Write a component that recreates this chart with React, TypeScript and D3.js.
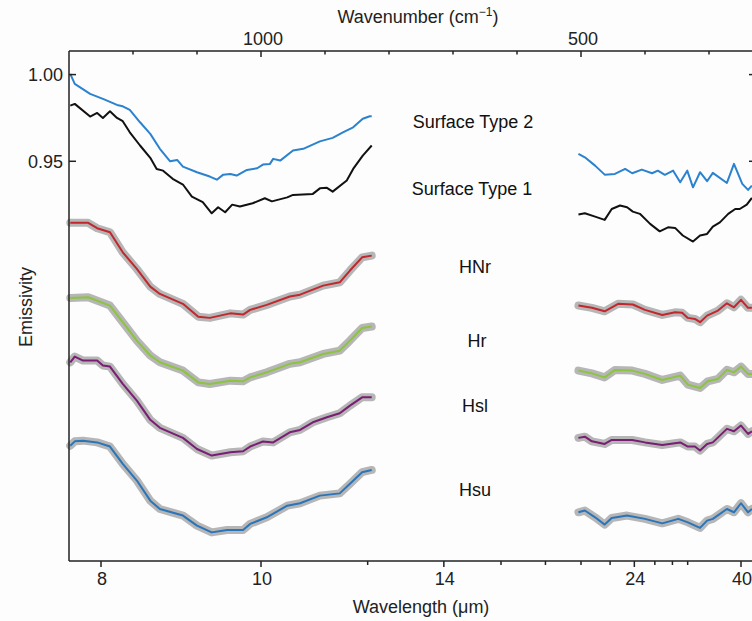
import React from 'react';
import * as d3 from 'd3';

type Pt = [number, number];

// [wavenumber (cm-1), emissivity]; the 12-21 um gap has no data
const type2Left: Pt[] = [[1298,1.0004],[1291,0.9946],[1267,0.9889],[1247,0.9860],[1225,0.9825],[1216,0.9817],[1205,0.9796],[1189,0.9725],[1173,0.9658],[1158,0.9572],[1142,0.9500],[1131,0.9508],[1122,0.9469],[1100,0.9437],[1080,0.9412],[1069,0.9394],[1059,0.9423],[1048,0.9427],[1038,0.9418],[1022,0.9450],[1006,0.9460],[997,0.9481],[986,0.9485],[981,0.9514],[970,0.9504],[950,0.9562],[934,0.9572],[908,0.9615],[888,0.9635],[872,0.9667],[856,0.9696],[841,0.9745],[830,0.9760],[827,0.9760]];
const type2Right: Pt[] = [[504,0.9543],[494,0.9523],[478,0.9475],[463,0.9423],[447,0.9427],[431,0.9456],[420,0.9431],[405,0.9452],[389,0.9431],[380,0.9446],[369,0.9422],[356,0.9446],[345,0.9379],[334,0.9446],[325,0.9350],[314,0.9437],[303,0.9385],[294,0.9433],[272,0.9375],[261,0.9485],[248,0.9370],[239,0.9335],[233,0.9360]];

const type1Left: Pt[] = [[1298,0.9821],[1291,0.9831],[1267,0.9758],[1256,0.9779],[1247,0.9750],[1236,0.9788],[1225,0.9750],[1216,0.9731],[1205,0.9667],[1189,0.9591],[1173,0.9520],[1163,0.9456],[1153,0.9446],[1138,0.9399],[1122,0.9366],[1108,0.9296],[1091,0.9264],[1077,0.9200],[1067,0.9235],[1056,0.9206],[1045,0.9250],[1033,0.9239],[1013,0.9258],[994,0.9287],[983,0.9269],[959,0.9292],[950,0.9306],[919,0.9312],[908,0.9344],[897,0.9347],[888,0.9325],[866,0.9389],[856,0.9456],[841,0.9533],[827,0.9591]];
const type1Right: Pt[] = [[504,0.9193],[494,0.9200],[478,0.9181],[463,0.9162],[452,0.9225],[439,0.9245],[428,0.9235],[419,0.9210],[408,0.9197],[392,0.9139],[377,0.9096],[364,0.9119],[353,0.9116],[341,0.9072],[325,0.9037],[314,0.9072],[303,0.9081],[294,0.9123],[283,0.9148],[270,0.9197],[259,0.9225],[252,0.9225],[241,0.9250],[233,0.9289]];

const hnrLeft: Pt[] = [[1298,0.9145],[1270,0.9145],[1256,0.9114],[1236,0.9091],[1216,0.8975],[1194,0.8879],[1173,0.8777],[1158,0.8735],[1122,0.8678],[1098,0.8604],[1080,0.8597],[1048,0.8623],[1028,0.8616],[1017,0.8643],[991,0.8672],[955,0.8720],[939,0.8731],[903,0.8783],[877,0.8802],[861,0.8870],[842,0.8946],[827,0.8956]];
const hnrRight: Pt[] = [[504,0.8668],[483,0.8655],[463,0.8635],[442,0.8678],[419,0.8674],[400,0.8643],[373,0.8614],[353,0.8629],[342,0.8626],[333,0.8597],[322,0.8591],[314,0.8572],[303,0.8610],[286,0.8639],[272,0.8681],[261,0.8658],[250,0.8701],[239,0.8655],[233,0.8655]];

const hrLeft: Pt[] = [[1298,0.8712],[1270,0.8716],[1236,0.8668],[1216,0.8572],[1194,0.8466],[1173,0.8380],[1158,0.8341],[1122,0.8293],[1098,0.8225],[1080,0.8216],[1048,0.8235],[1028,0.8231],[1017,0.8254],[991,0.8283],[955,0.8332],[939,0.8341],[903,0.8389],[877,0.8408],[861,0.8466],[842,0.8539],[827,0.8547]];
const hrRight: Pt[] = [[504,0.8293],[483,0.8277],[463,0.8254],[447,0.8297],[420,0.8293],[400,0.8274],[373,0.8239],[345,0.8264],[333,0.8212],[314,0.8193],[302,0.8231],[286,0.8245],[272,0.8297],[261,0.8283],[250,0.8316],[239,0.8274],[233,0.8274]];

const hslLeft: Pt[] = [[1298,0.8341],[1291,0.8374],[1278,0.8351],[1256,0.8351],[1247,0.8322],[1236,0.8316],[1216,0.8216],[1194,0.8120],[1173,0.8009],[1158,0.7963],[1122,0.7905],[1100,0.7841],[1077,0.7803],[1048,0.7822],[1028,0.7828],[1017,0.7855],[997,0.7884],[981,0.7879],[955,0.7937],[939,0.7951],[919,0.7995],[897,0.8024],[877,0.8047],[861,0.8091],[842,0.8139],[827,0.8139]];
const hslRight: Pt[] = [[504,0.7905],[494,0.7912],[483,0.7885],[463,0.7870],[452,0.7893],[420,0.7893],[400,0.7879],[373,0.7864],[345,0.7879],[333,0.7855],[322,0.7855],[314,0.7832],[303,0.7870],[294,0.7879],[272,0.7957],[261,0.7943],[250,0.7976],[239,0.7928],[233,0.7943]];

const hsuLeft: Pt[] = [[1298,0.7860],[1291,0.7885],[1278,0.7889],[1256,0.7879],[1236,0.7855],[1216,0.7755],[1194,0.7659],[1173,0.7543],[1158,0.7495],[1122,0.7457],[1100,0.7399],[1077,0.7360],[1053,0.7374],[1028,0.7374],[1017,0.7409],[991,0.7447],[959,0.7514],[939,0.7528],[908,0.7572],[877,0.7585],[861,0.7640],[842,0.7707],[827,0.7720]];
const hsuRight: Pt[] = [[504,0.7476],[494,0.7486],[478,0.7447],[463,0.7405],[452,0.7443],[428,0.7457],[400,0.7438],[373,0.7412],[348,0.7438],[333,0.7418],[314,0.7386],[303,0.7428],[294,0.7438],[272,0.7495],[261,0.7476],[250,0.7528],[239,0.7476],[233,0.7495]];

const emissivityTicks = [1.0, 0.95];
const wavenumberTicks = [1200, 1100, 1000, 900, 800, 700, 600, 500, 400, 300];
const wavenumberLabels = [1000, 500];
const wavelengthTicks = [8, 10, 12, 14, 16, 18, 20, 22, 24, 26, 28, 30, 40];
const wavelengthLabels = [8, 10, 14, 24, 40];

const series = [
  { name: 'Surface Type 2', color: '#2b82cf', band: false, segs: [type2Left, type2Right] },
  { name: 'Surface Type 1', color: '#111111', band: false, segs: [type1Left, type1Right] },
  { name: 'HNr', color: '#c1272d', band: true, segs: [hnrLeft, hnrRight] },
  { name: 'Hr', color: '#8cc43f', band: true, segs: [hrLeft, hrRight] },
  { name: 'Hsl', color: '#7a1d74', band: true, segs: [hslLeft, hslRight] },
  { name: 'Hsu', color: '#2a74ba', band: true, segs: [hsuLeft, hsuRight] },
];

const W = 752;
const H = 621;
const left = 69, right = 757, top = 51, bottom = 561;
const font = '"Liberation Sans", Arial, sans-serif';

const App = () => {
  // the plot is linear in wavenumber; the bottom axis just labels it in wavelength
  const x = d3.scaleLinear().domain([1300, 225]).range([left, right]);
  const y = d3.scaleLinear().domain([0.7195, 1.0136]).range([bottom, top]);
  const line = d3.line<Pt>().x(d => x(d[0])).y(d => y(d[1]));
  const axisColor = '#222';

  return (
    <svg width={W} height={H} style={{ display: 'block', background: '#fdfdfd', fontFamily: font }}>
      <style>{'body{margin:0}'}</style>

      {/* curves */}
      {series.map(s => (
        <g key={s.name}>
          {s.band && s.segs.map((seg, i) => (
            <path key={'b' + i} d={line(seg) || ''} fill="none" stroke="#b6b6b6" strokeWidth={8}
              strokeLinejoin="round" strokeLinecap="round" />
          ))}
          {s.segs.map((seg, i) => (
            <path key={'l' + i} d={line(seg) || ''} fill="none" stroke={s.color} strokeWidth={2}
              strokeLinejoin="round" />
          ))}
        </g>
      ))}

      {/* frame */}
      <line x1={left} x2={left} y1={top} y2={bottom} stroke={axisColor} strokeWidth={1.5} />
      <line x1={right} x2={right} y1={top} y2={bottom} stroke={axisColor} strokeWidth={1.5} />
      <line x1={left} x2={right} y1={top} y2={top} stroke={axisColor} strokeWidth={1.5} />
      <line x1={left} x2={right} y1={bottom} y2={bottom} stroke={axisColor} strokeWidth={1.5} />

      {/* left / right emissivity ticks */}
      {emissivityTicks.map(t => (
        <g key={t}>
          <line x1={left} x2={left + 7} y1={y(t)} y2={y(t)} stroke={axisColor} strokeWidth={1.5} />
          <line x1={right - 8} x2={right} y1={y(t)} y2={y(t)} stroke={axisColor} strokeWidth={1.5} />
          <text x={63} y={y(t)} dy="0.36em" textAnchor="end" fontSize={18} fill="#222">{d3.format('.2f')(t)}</text>
        </g>
      ))}

      {/* top wavenumber axis */}
      {wavenumberTicks.map(t => {
        const major = wavenumberLabels.includes(t);
        return (
          <g key={t}>
            <line x1={x(t)} x2={x(t)} y1={top} y2={top + (major ? 6 : 3.5)} stroke={axisColor} strokeWidth={1.5} />
            {major && <text x={x(t) + 2} y={45} textAnchor="middle" fontSize={18} fill="#222">{t}</text>}
          </g>
        );
      })}
      <text x={418} y={23} textAnchor="middle" fontSize={18} fill="#222">
        Wavenumber (cm<tspan fontSize={12} dy={-7}>−1</tspan><tspan dy={7}>)</tspan>
      </text>

      {/* bottom wavelength axis */}
      {wavelengthTicks.map(t => {
        const major = wavelengthLabels.includes(t);
        const px = x(1e4 / t);
        return (
          <g key={t}>
            <line x1={px} x2={px} y1={bottom} y2={bottom + (major ? 6 : 4)} stroke={axisColor} strokeWidth={1.5} />
            {major && <text x={px + 1} y={585} textAnchor="middle" fontSize={18} fill="#222">{t}</text>}
          </g>
        );
      })}
      <text x={421} y={613} textAnchor="middle" fontSize={18} fill="#222">Wavelength (μm)</text>

      <text transform="translate(32,307) rotate(-90)" textAnchor="middle" fontSize={18} fill="#222">Emissivity</text>

      {/* curve labels */}
      <text x={473} y={128} textAnchor="middle" fontSize={18} fill="#111">Surface Type 2</text>
      <text x={472} y={195} textAnchor="middle" fontSize={18} fill="#111">Surface Type 1</text>
      <text x={475} y={273} textAnchor="middle" fontSize={18} fill="#111">HNr</text>
      <text x={477} y={347} textAnchor="middle" fontSize={18} fill="#111">Hr</text>
      <text x={475} y={412} textAnchor="middle" fontSize={18} fill="#111">Hsl</text>
      <text x={475} y={496} textAnchor="middle" fontSize={18} fill="#111">Hsu</text>
    </svg>
  );
};

export default App;
